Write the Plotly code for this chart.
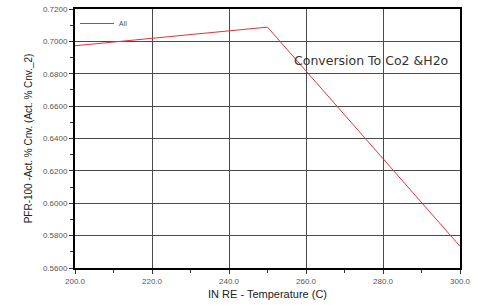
import plotly.graph_objects as go

temperature = [200.0, 250.0, 300.0]
conversion = [0.6973, 0.7088, 0.5734]
series_name = "All"
x_title = "IN RE - Temperature (C)"
y_title = "PFR-100 -Act. % Cnv. (Act. % Cnv._2)"
note = "Conversion To Co2 &H2o"

fig = go.Figure()
fig.add_trace(go.Scatter(x=temperature, y=conversion, mode="lines", name=series_name,
                         line=dict(color="#e8303a", width=1)))

axis_common = dict(showgrid=True, gridcolor="#4a4a4a", gridwidth=1, showline=True,
                   linecolor="black", linewidth=2, mirror=True, ticks="outside",
                   ticklen=4, tickcolor="#333", zeroline=False,
                   tickfont=dict(family="Arial, Liberation Sans", size=8, color="#555"),
                   minor=dict(ticks="outside", ticklen=3, tickcolor="#333", showgrid=False))

fig.update_xaxes(range=[200, 300], dtick=20, tickformat=".1f",
                 title=dict(text=x_title, font=dict(family="Arial, Liberation Sans", size=11, color="#222"), standoff=6),
                 minor_dtick=10, **axis_common)
fig.update_yaxes(range=[0.56, 0.72], dtick=0.02, tickformat=".4f",
                 title=dict(text=y_title, font=dict(family="Arial, Liberation Sans", size=10, color="#222"), standoff=8),
                 minor_dtick=0.01, **axis_common)

fig.add_annotation(x=277, y=0.6880, xref="x", yref="y", text=note, showarrow=False,
                   font=dict(family="Verdana, DejaVu Sans", size=12.5, color="#333"))

fig.update_layout(width=478, height=305, margin=dict(l=75, r=18, t=5, b=37),
                  plot_bgcolor="white", paper_bgcolor="white",
                  legend=dict(x=0.0, y=1.0, xanchor="left", yanchor="top",
                              bgcolor="rgba(0,0,0,0)", font=dict(size=7, color="#444"),
                              itemwidth=34, tracegroupgap=0),
                  showlegend=True)

fig.write_html("out.html", config={"displayModeBar": False},
               post_script="document.body.style.margin='0';")
